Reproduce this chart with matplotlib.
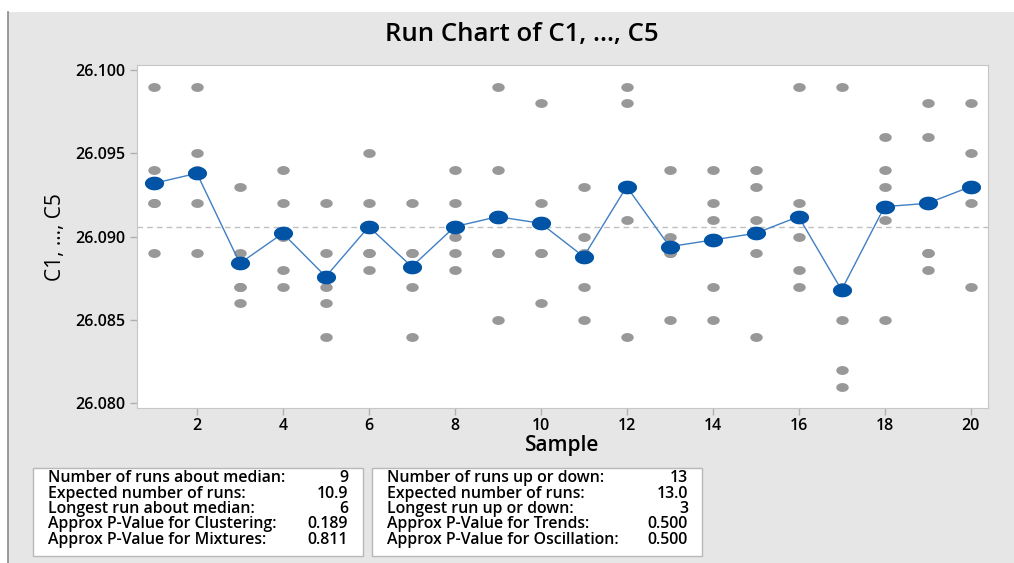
import numpy as np
import matplotlib
matplotlib.use("Agg")
import matplotlib.pyplot as plt
from matplotlib.path import Path
from matplotlib.patches import Rectangle

# ---- data (values in units of 26.0xx) ----
samples = list(range(1, 21))
obs_thousandths = [
    [99, 94, 92, 92, 89],
    [99, 95, 94, 92, 89],
    [93, 89, 87, 87, 86],
    [94, 92, 90, 88, 87],
    [92, 89, 87, 86, 84],
    [95, 92, 89, 89, 88],
    [92, 89, 89, 87, 84],
    [94, 92, 90, 89, 88],
    [99, 94, 89, 89, 85],
    [98, 92, 89, 89, 86],
    [93, 90, 89, 87, 85],
    [99, 98, 93, 91, 84],
    [94, 90, 89, 89, 85],
    [94, 92, 91, 87, 85],
    [94, 93, 91, 89, 84],
    [99, 92, 90, 88, 87],
    [99, 87, 85, 82, 81],
    [96, 94, 93, 91, 85],
    [98, 96, 89, 89, 88],
    [98, 95, 93, 92, 87],
]
obs = np.array(obs_thousandths) / 1000.0 + 26.0
means = obs.mean(axis=1)
median = np.median(means)

left_labels = ["Number of runs about median:", "Expected number of runs:",
               "Longest run about median:", "Approx P-Value for Clustering:",
               "Approx P-Value for Mixtures:"]
left_values = ["9", "10.9", "6", "0.189", "0.811"]
right_labels = ["Number of runs up or down:", "Expected number of runs:",
                "Longest run up or down:", "Approx P-Value for Trends:",
                "Approx P-Value for Oscillation:"]
right_values = ["13", "13.0", "3", "0.500", "0.500"]

xticks = list(range(2, 21, 2))
yticks = [26.080, 26.085, 26.090, 26.095, 26.100]

# ---- styling ----
W, H = 1014, 563
plt.rcParams['font.family'] = ['Open Sans', 'DejaVu Sans']
fig = plt.figure(figsize=(W / 100, H / 100), dpi=100)
fig.patch.set_facecolor('white')

def fx(px):
    return px / W

def fy(py):
    return 1 - py / H

# gray panel
fig.patches.append(Rectangle((fx(8), 0), fx(W - 8), fy(12), transform=fig.transFigure,
                             facecolor='#e6e6e6', edgecolor='none', zorder=-10))
fig.lines.append(plt.Line2D([fx(8), fx(8)], [0, fy(12)], transform=fig.transFigure,
                            color='#8a8a8a', lw=1.2, zorder=-9))

ax = fig.add_axes([fx(136.7), fy(408.3), fx(987.7 - 136.7), (408.3 - 65) / H])
ax.set_zorder(1)
ax.set_facecolor('white')

# ellipse marker (horizontally stretched)
t = np.linspace(0, 2 * np.pi, 60)
ell = Path(np.column_stack([1.4 * np.cos(t), np.sin(t)]), closed=True)

for i, s in enumerate(samples):
    ax.scatter([s] * len(obs[i]), obs[i], marker=ell, s=80, color='#989898',
               linewidths=0, zorder=2)
ax.axhline(median, color='#c0c0c0', lw=1, ls=(0, (4, 3)), zorder=1)
ax.plot(samples, means, color='#3f7fc4', lw=1, zorder=3)
ax.scatter(samples, means, marker=ell, s=190, color='#0053a5', linewidths=0, zorder=4)

ax.set_xlim(0.6, 20.4)
ax.set_ylim(26.0797, 26.1003)
ax.set_xticks(xticks)
ax.set_yticks(yticks)
ax.set_yticklabels([f"{v:.3f}" for v in yticks])
for sp in ax.spines.values():
    sp.set_color('#c6c6c6')
ax.tick_params(axis='both', colors='#b0b0b0', length=5, width=1,
               labelcolor='black', labelsize=11.5)
ax.tick_params(axis='x', pad=2)
for lab in ax.get_xticklabels() + ax.get_yticklabels():
    lab.set_fontweight('semibold')

ax.set_xlabel("Sample", fontsize=15, fontweight='semibold', labelpad=1)
ax.set_ylabel("C1, ..., C5", fontsize=15, labelpad=6)
fig.text(fx(522), fy(35), "Run Chart of C1, ..., C5", ha='center', va='center',
         fontsize=18.5, fontweight='semibold')

# stat boxes
def box(x0, x1, y0, y1, labels, values, lx, vx):
    fig.patches.append(Rectangle((fx(x0), fy(y1)), fx(x1 - x0), (y1 - y0) / H,
                                 transform=fig.transFigure, facecolor='white',
                                 edgecolor='#b8b8b8', lw=1, zorder=1))
    rows = [478, 493.5, 509, 524.5, 540]
    for r, lab, val in zip(rows, labels, values):
        fig.text(fx(lx), fy(r), lab, ha='left', va='center', fontsize=11.4,
                 fontweight='semibold', zorder=2)
        fig.text(fx(vx), fy(r), val, ha='right', va='center', fontsize=11.4,
                 fontweight='semibold', zorder=2)

box(33, 363, 468, 556, left_labels, left_values, 48, 348)
box(372, 702, 468, 556, right_labels, right_values, 387, 688)

fig.savefig("out.png", dpi=100, facecolor=fig.get_facecolor())
